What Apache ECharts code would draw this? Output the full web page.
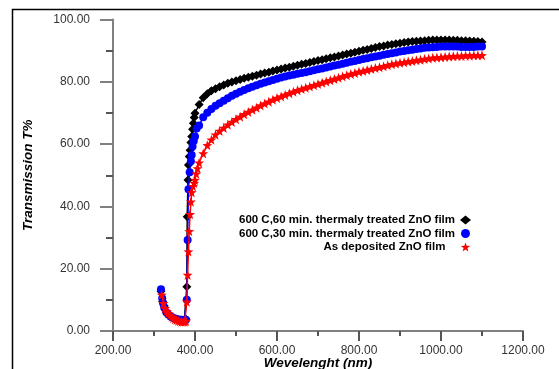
<!DOCTYPE html>
<html><head><meta charset="utf-8">
<script src="https://cdn.jsdelivr.net/npm/echarts@6/dist/echarts.min.js"></script>
<style>html,body{margin:0;padding:0;background:#fff}#c{width:559px;height:369px}</style>
</head><body><div id="c"></div>
<script>
// Series names
const seriesNames = [
  '600 C,60 min. thermaly treated ZnO film',
  '600 C,30 min. thermaly treated ZnO film',
  'As deposited ZnO film'
];
// x tick values / y tick values
const xTicks = [200, 400, 600, 800, 1000, 1200];
const yTicks = [0, 20, 40, 60, 80, 100];

// 600 C, 60 min (black diamonds): wavelength (nm), transmission (%)
const wl60 = [317,321,325,330,336,343,350,358,366,374,378,380,381,383,384,386,388,390,392,394,396,398,
  400,410,420,430,440,450,460,470,480,490,500,510,520,530,540,550,560,570,580,590,600,610,620,630,640,650,
  660,670,680,690,700,710,720,730,740,750,760,770,780,790,800,810,820,830,840,850,860,870,880,890,900,910,
  920,930,940,950,960,970,980,990,1000,1010,1020,1030,1040,1050,1060,1070,1080,1090,1100];
const t60 = [12.8,9.5,8.0,6.2,5.0,4.4,4.0,3.7,3.5,3.6,3.8,14.2,36.7,48.5,53.3,56.0,58.0,60.5,62.4,64.8,66.7,68.5,
  69.9,72.7,74.9,76.2,77.1,77.8,78.4,79.0,79.5,79.9,80.3,80.7,81.1,81.5,81.8,82.1,82.5,82.8,83.1,83.5,83.8,84.1,84.4,84.7,85.0,85.3,
  85.6,85.9,86.2,86.5,86.8,87.1,87.4,87.7,88.0,88.3,88.6,88.9,89.2,89.5,89.8,90.1,90.4,90.7,91.0,91.3,91.5,91.8,92.0,92.2,92.4,92.6,
  92.8,92.9,93.0,93.1,93.2,93.3,93.4,93.4,93.4,93.4,93.4,93.3,93.3,93.2,93.2,93.1,93.0,92.9,92.8];

// 600 C, 30 min (blue circles)
const wl30 = [317,320,322,325,330,335,342,350,358,366,374,378,380,382,384,387,390,392,394,397,
  400,404,410,420,430,440,450,460,470,480,490,500,510,520,530,540,550,560,570,580,590,600,610,620,630,640,650,
  660,670,680,690,700,710,720,730,740,750,760,770,780,790,800,810,820,830,840,850,860,870,880,890,900,910,
  920,930,940,950,960,970,980,990,1000,1010,1020,1030,1040,1050,1060,1070,1080,1090,1100];
const t30 = [13.4,10.5,9.0,7.5,6.0,5.3,4.6,4.1,3.8,3.6,3.5,3.6,10.0,29.2,45.5,51.0,54.5,56.5,59.2,61.0,
  62.4,65.0,66.0,68.6,70.1,71.3,72.3,73.1,73.9,74.7,75.5,76.2,76.8,77.4,77.9,78.4,78.9,79.4,79.8,80.2,80.6,81.0,81.4,81.7,82.0,82.3,82.6,
  82.8,83.1,83.4,83.7,84.0,84.3,84.6,84.9,85.2,85.5,85.8,86.1,86.4,86.7,87.0,87.3,87.6,87.9,88.1,88.4,88.7,88.9,89.2,89.4,89.7,89.9,
  90.1,90.3,90.5,90.7,90.9,91.0,91.1,91.2,91.3,91.3,91.3,91.3,91.3,91.2,91.2,91.2,91.2,91.3,91.3];

// As deposited (red stars)
const wlAs = [319,323,327,331,335,339,343,347,351,355,359,363,367,371,375,378,380,382,384,386,388,390,392,395,398,
  400,403,406,410,420,430,440,450,460,470,480,490,500,510,520,530,540,550,560,570,580,590,600,610,620,630,640,650,
  660,670,680,690,700,710,720,730,740,750,760,770,780,790,800,810,820,830,840,850,860,870,880,890,900,910,
  920,930,940,950,960,970,980,990,1000,1010,1020,1030,1040,1050,1060,1070,1080,1090,1100];
const tAs = [11.6,8.9,7.3,6.4,5.7,5.1,4.6,4.2,3.8,3.5,3.3,3.1,3.0,3.0,3.0,3.2,9.4,18.0,25.5,32.0,37.5,41.5,44.5,46.5,47.5,
  48.5,50.5,52.2,54.0,57.0,59.6,61.4,63.0,64.2,65.2,66.2,67.1,68.0,68.8,69.6,70.3,71.0,71.7,72.4,73.0,73.6,74.2,74.8,75.3,75.8,76.3,76.8,77.3,
  77.7,78.1,78.5,78.9,79.3,79.7,80.1,80.5,80.9,81.3,81.7,82.1,82.5,82.8,83.2,83.5,83.8,84.1,84.4,84.7,85.0,85.3,85.6,85.9,86.1,86.3,
  86.5,86.7,86.9,87.1,87.3,87.5,87.7,87.8,87.9,88.0,88.1,88.2,88.3,88.3,88.4,88.4,88.5,88.5,88.5];

const starPath = 'path://M10 0 L12.35 6.76 L19.51 6.91 L13.8 11.24 L15.88 18.09 L10 14 L4.12 18.09 L6.2 11.24 L0.49 6.91 L7.65 6.76 Z';
const zip = (a, b) => a.map((v, i) => [v, b[i]]);

const chart = echarts.init(document.getElementById('c'), null, {renderer: 'canvas'});
const labelFont = {fontFamily: 'Liberation Sans, Arial, sans-serif', fontSize: 12, color: '#333'};
const nameFont = {fontFamily: 'Liberation Sans, Arial, sans-serif', fontSize: 13.5, fontWeight: 'bold', fontStyle: 'italic', color: '#000'};
chart.setOption({
  animation: false,
  backgroundColor: '#fff',
  graphic: [{
    type: 'rect', z: 100, silent: true,
    shape: {x: 12.5, y: 9.5, width: 700, height: 500},
    style: {fill: 'none', stroke: '#000', lineWidth: 1.5}
  }],
  grid: {left: 113, right: 36, top: 19.5, bottom: 38, containLabel: false, outerBoundsMode: 'none'},
  legend: {
    orient: 'vertical', right: 83, top: 209, align: 'right',
    itemWidth: 11, itemHeight: 9, itemGap: 1.5,
    textStyle: {fontFamily: 'Liberation Sans, Arial, sans-serif', fontSize: 11.5, lineHeight: 12, fontWeight: 'bold', color: '#000'},
    formatter: function (n) { return n === seriesNames[2] ? n + '   ' : n; },
    data: [
      {name: seriesNames[0], icon: 'diamond'},
      {name: seriesNames[1], icon: 'circle'},
      {name: seriesNames[2], icon: starPath}
    ]
  },
  xAxis: {
    type: 'value', min: xTicks[0], max: xTicks[xTicks.length - 1], interval: 200,
    name: 'Wevelenght (nm)', nameLocation: 'middle', nameGap: 25, nameMoveOverlap: false,
    nameTextStyle: nameFont,
    axisLine: {show: true, onZero: false, lineStyle: {color: '#808080', width: 2}},
    axisTick: {show: true, inside: false, length: 10, lineStyle: {color: '#555', width: 2}},
    minorTick: {show: true, splitNumber: 2, length: 5, lineStyle: {color: '#555', width: 2}},
    splitLine: {show: false},
    axisLabel: Object.assign({margin: 14, formatter: v => v.toFixed(2)}, labelFont)
  },
  yAxis: {
    type: 'value', min: yTicks[0], max: yTicks[yTicks.length - 1], interval: 20,
    name: 'Transmission T%', nameLocation: 'middle', nameGap: 78, nameMoveOverlap: false,
    nameTextStyle: nameFont,
    axisLine: {show: true, onZero: false, lineStyle: {color: '#808080', width: 2}},
    axisTick: {show: true, inside: false, length: 13, lineStyle: {color: '#808080', width: 2}},
    minorTick: {show: true, splitNumber: 2, length: 7, lineStyle: {color: '#555', width: 2}},
    splitLine: {show: false},
    axisLabel: Object.assign({margin: 23, formatter: v => v.toFixed(2)}, labelFont)
  },
  series: [
    {name: seriesNames[0], type: 'line', data: zip(wl60, t60), symbol: 'diamond', symbolSize: 9,
     itemStyle: {color: '#000'}, lineStyle: {color: '#000', width: 1.5}, z: 2},
    {name: seriesNames[1], type: 'line', data: zip(wl30, t30), symbol: 'circle', symbolSize: 8,
     itemStyle: {color: '#0000ff'}, lineStyle: {color: '#0000ff', width: 1.5}, z: 3},
    {name: seriesNames[2], type: 'line', data: zip(wlAs, tAs), symbol: starPath, symbolSize: 10,
     itemStyle: {color: '#ff0000'}, lineStyle: {color: '#ff0000', width: 1.5}, z: 4}
  ]
});
</script></body></html>
